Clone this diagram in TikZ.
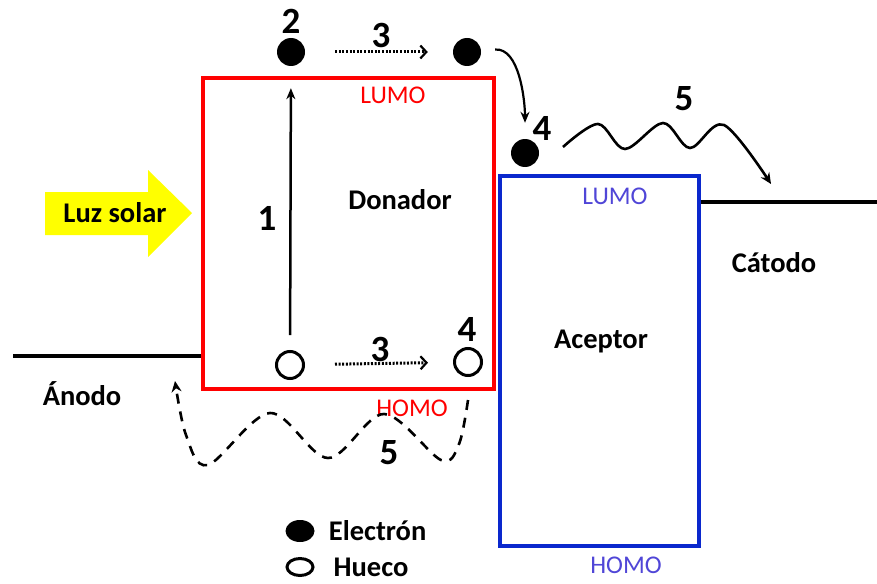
\documentclass[tikz,border=0pt]{standalone}
\usepackage{fontspec}
\setmainfont{Carlito}
\usetikzlibrary{arrows.meta,positioning,shapes.geometric}

\definecolor{donorred}{RGB}{255,0,0}
\definecolor{acceptblue}{RGB}{10,40,205}
\definecolor{acceptlabel}{RGB}{80,70,215}
\definecolor{sunyellow}{RGB}{255,255,0}

\begin{document}
\begin{tikzpicture}[
  x=1pt, y=-1pt,
  every node/.style={inner sep=0pt},
  lbl/.style={font=\fontsize{28.5}{31}\selectfont\bfseries},
  num/.style={font=\fontsize{37}{40}\selectfont\bfseries},
  orbital/.style={font=\fontsize{25.5}{28}\selectfont},
  band/.style={draw, line width=4pt, rectangle},
  level/.style={line width=4pt, line cap=butt},
  electron/.style={circle, fill=black, minimum size=28pt},
  hole/.style={circle, draw=black, line width=3pt, minimum size=27pt},
  excite/.style={line width=2.5pt, -{Stealth[length=11pt,width=9pt]}},
  hop/.style={line width=3pt, dash pattern=on 2pt off 1.6pt, -{Straight Barb[length=6pt,width=13pt,line width=2.2pt]}},
  jump/.style={line width=2.2pt, -{Stealth[length=11pt,width=9pt]}},
  wave/.style={line width=2.6pt, -{Stealth[length=11pt,width=10pt]}},
  backwave/.style={wave, dash pattern=on 10pt off 8pt},
]
\useasboundingbox (0,0) rectangle (877,583);

% Bands
\node[band, draw=donorred, minimum width=291pt, minimum height=311pt] (donor) at (348.5,233.5) {};
\node[band, draw=acceptblue, minimum width=199pt, minimum height=370pt] (accept) at (599,361) {};

% Electrodes
\coordinate (anode) at (13,356);
\coordinate (cathode) at (877,202);
\draw[level] (anode) -- (anode -| donor.west);
\draw[level] (accept.east |- cathode) -- (cathode);

% Sunlight
\fill[sunyellow] (45,192) -- (148,192) -- (148,170) -- (192,213) -- (148,257) -- (148,235) -- (45,235) -- cycle;
\node[lbl] (luz) at (115,213) {Luz solar};

% Labels
\node[lbl] (donlbl) at (400,200) {Donador};
\node[lbl] (acclbl) at (601,341) {Aceptor};
\node[lbl] (anolbl) at (82,394) {Ánodo};
\node[lbl] (catlbl) at (774,263) {Cátodo};
\node[orbital, text=donorred] (dlumo) at (393,95) {LUMO};
\node[orbital, text=donorred] (dhomo) at (412,408) {HOMO};
\node[orbital, text=acceptlabel] (alumo) at (615,196) {LUMO};
\node[orbital, text=acceptlabel] (ahomo) at (626,565) {HOMO};

% Carriers
\node[electron] (e2) at (291,52) {};
\node[electron] (e3) at (467,52) {};
\node[electron] (e4) at (525,153) {};
\node[hole] (h1) at (290,365) {};
\node[hole] (h4) at (468,362) {};

% Steps
\draw[excite, shorten <=15pt, shorten >=22pt] (h1) -- (e2);
\draw[hop, shorten <=30pt, shorten >=25pt] (e2) -- (e3);
\draw[hop, shorten <=30pt, shorten >=25pt] (h1) -- (h4);
\draw[jump, shorten <=14pt, shorten >=16pt] (e3) to[out=5, in=90] (e4);
\draw[wave] plot[smooth, tension=0.55] coordinates {(563,147) (598,124) (625,149) (663,123) (690,148) (724,125) (771,184)};
\draw[backwave] plot[smooth, tension=0.55] coordinates {(468,400) (459,444) (441,460) (384,414) (328,458) (270,413) (208,465) (186,435) (175,381)};

% Step numbers
\node[num] (n1) at (267,218) {1};
\node[num] (n2) at (291,21) {2};
\node[num] (n3a) at (381,35) {3};
\node[num] (n3b) at (380,349) {3};
\node[num] (n4a) at (542,128) {4};
\node[num] (n4b) at (467,329) {4};
\node[num] (n5a) at (684,99) {5};
\node[num] (n5b) at (389,453) {5};

% Legend
\node[ellipse, fill=black, minimum width=29pt, minimum height=22pt] (legel) at (300,531) {};
\node[ellipse, draw=black, line width=3pt, minimum width=26pt, minimum height=17pt] (leghole) at (300,567) {};
\node[lbl, right=14pt of legel] (legeltxt) {Electrón};
\node[lbl, right=19pt of leghole] (legholetxt) {Hueco};

\end{tikzpicture}
\end{document}
